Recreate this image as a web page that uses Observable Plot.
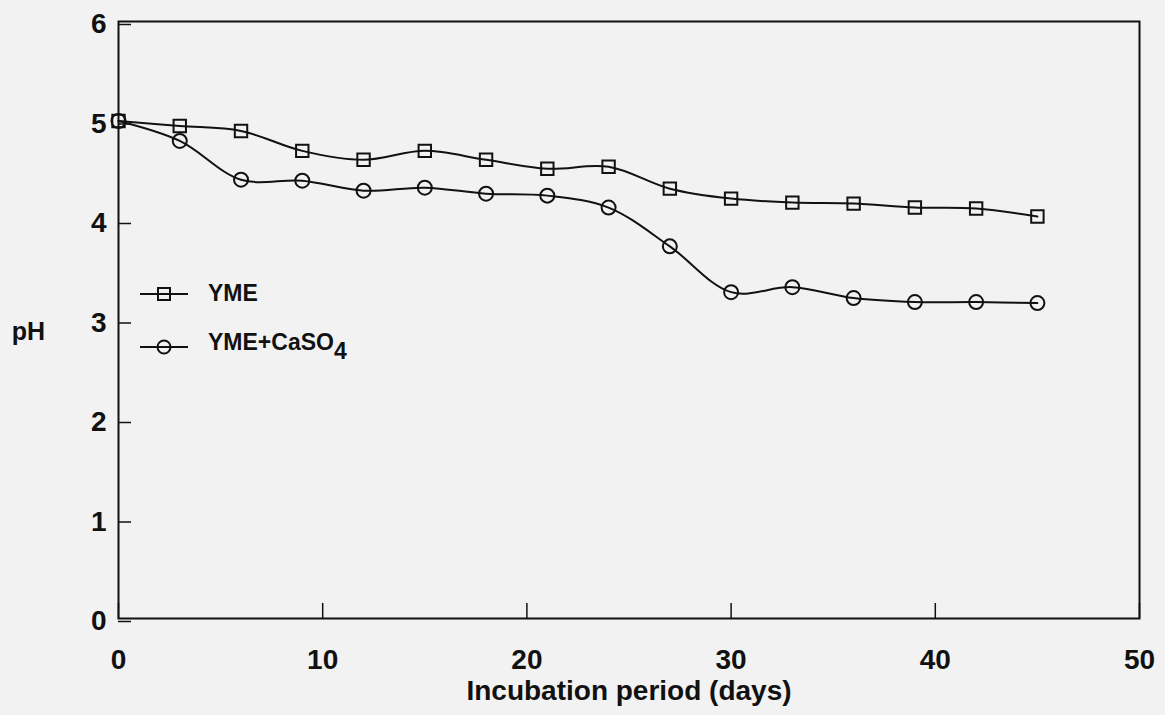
<!DOCTYPE html>
<html>
<head>
<meta charset="utf-8">
<script src="https://cdn.jsdelivr.net/npm/d3@7"></script>
<script src="https://cdn.jsdelivr.net/npm/@observablehq/plot@0.6"></script>
<style>
  html, body { margin: 0; padding: 0; background: #f2f2f2; }
  #wrap { position: relative; width: 1165px; height: 715px; font-family: "Liberation Sans", Arial, sans-serif; }
  #legend { position: absolute; left: 140px; top: 280px; font-weight: bold; font-size: 23px; color: #111; }
  .row { display: flex; align-items: center; height: 27px; margin-bottom: 26px; }
  .row svg { margin-right: 20px; }
</style>
</head>
<body>
<div id="wrap">
  <div id="chart"></div>
  <div id="legend">
    <div class="row">
      <svg width="48" height="20"><line x1="0" y1="10" x2="48" y2="10" stroke="#111" stroke-width="2"/><rect x="18" y="4" width="12" height="12" fill="none" stroke="#111" stroke-width="2"/></svg>
      <span>YME</span>
    </div>
    <div class="row">
      <svg width="48" height="20"><line x1="0" y1="10" x2="48" y2="10" stroke="#111" stroke-width="2"/><circle cx="24" cy="10" r="6.5" fill="none" stroke="#111" stroke-width="2"/></svg>
      <span>YME+CaSO<sub style="font-size:23px;vertical-align:-9px">4</sub></span>
    </div>
  </div>
</div>
<script>
const days = [0, 3, 6, 9, 12, 15, 18, 21, 24, 27, 30, 33, 36, 39, 42, 45];
const phYME = [5.00, 4.95, 4.90, 4.70, 4.61, 4.70, 4.61, 4.52, 4.54, 4.32, 4.22, 4.18, 4.17, 4.13, 4.12, 4.04];
const phYMECaSO4 = [5.00, 4.80, 4.41, 4.40, 4.30, 4.33, 4.27, 4.25, 4.13, 3.74, 3.28, 3.33, 3.22, 3.18, 3.18, 3.17];
const xTicks = [0, 10, 20, 30, 40, 50];
const yTicks = [0, 1, 2, 3, 4, 5, 6];
const xTitle = "Incubation period (days)";
const yTitle = "pH";

const yme = days.map((d, i) => ({day: d, ph: phYME[i]}));
const ca = days.map((d, i) => ({day: d, ph: phYMECaSO4[i]}));
const ink = "#111";

const chart = Plot.plot({
  width: 1165,
  height: 715,
  marginLeft: 118,
  marginRight: 26,
  marginTop: 21,
  marginBottom: 97,
  style: {background: "transparent", fontFamily: "Liberation Sans, Arial, sans-serif", color: ink},
  x: {domain: [0, 50]},
  y: {domain: [0, 6]},
  marks: [
    Plot.frame({stroke: ink, strokeWidth: 2}),
    Plot.axisX(xTicks, {tickSize: -15, tickPadding: 46, tickFormat: "d", fontSize: 28, fontWeight: "bold", label: null, stroke: ink, strokeWidth: 1.5}),
    Plot.axisY(yTicks, {tickSize: -13, tickPadding: 25, tickFormat: "d", fontSize: 28, fontWeight: "bold", label: null, dy: 3, stroke: ink, strokeWidth: 1.5}),
    Plot.line(yme, {x: "day", y: "ph", curve: "catmull-rom", stroke: ink, strokeWidth: 2}),
    Plot.line(ca, {x: "day", y: "ph", curve: "catmull-rom", stroke: ink, strokeWidth: 2}),
    Plot.dot(yme, {x: "day", y: "ph", symbol: "square", r: 7, stroke: ink, strokeWidth: 2, fill: "none"}),
    Plot.dot(ca, {x: "day", y: "ph", symbol: "circle", r: 7, stroke: ink, strokeWidth: 2, fill: "none"}),
    Plot.text([xTitle], {frameAnchor: "bottom", text: d => d, dy: 81, fontSize: 28, fontWeight: "bold", fill: ink}),
    Plot.text([yTitle], {frameAnchor: "left", textAnchor: "middle", text: d => d, dx: -90, dy: 12, fontSize: 25, fontWeight: "bold", fill: ink})
  ]
});
document.getElementById("chart").appendChild(chart);
</script>
</body>
</html>
